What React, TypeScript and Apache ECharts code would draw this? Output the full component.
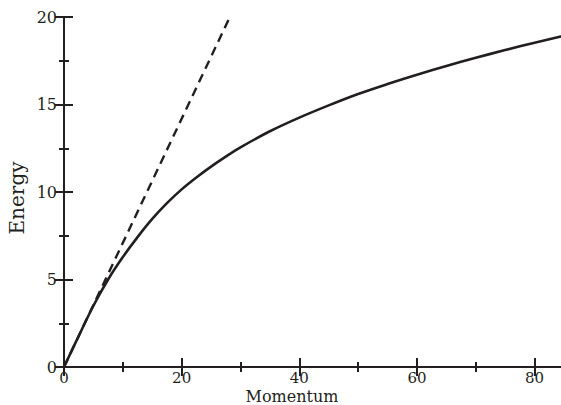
import React, { useEffect, useRef } from "react";
import * as echarts from "echarts";

const momentum = [0, 2.5, 5, 7.5, 10, 12.5, 15, 17.5, 20, 22.5, 25, 27.5, 30, 35, 40, 45, 50, 55, 60, 65, 70, 75, 80, 85];
const energy = [0, 1.77, 3.5, 5.0, 6.28, 7.42, 8.46, 9.36, 10.15, 10.83, 11.45, 12.02, 12.55, 13.47, 14.25, 14.95, 15.6, 16.17, 16.7, 17.2, 17.67, 18.11, 18.53, 18.93];
const asymptoteX = [0, 28.2];
const asymptoteY = [0, 20];
const xTicks = { min: 0, max: 85, interval: 20 };
const yTicks = { min: 0, max: 20, interval: 5 };

const INK = "#231f20";
const FONT = "DejaVu Serif";

export default function App() {
  const ref = useRef<HTMLDivElement>(null);
  useEffect(() => {
    if (!ref.current) return;
    const chart = echarts.init(ref.current, undefined, { renderer: "svg" });
    const axisCommon = {
      axisLine: { show: true, lineStyle: { color: INK, width: 2 } },
      axisTick: { show: true, inside: true, length: 9, lineStyle: { color: INK, width: 2 } },
      minorTick: { show: true, splitNumber: 2, length: 5, lineStyle: { color: INK, width: 2 } },
      splitLine: { show: false },
    };
    const label = { color: INK, fontFamily: FONT, fontSize: 16, lineHeight: 16 };
    chart.setOption({
      animation: false,
      backgroundColor: "#fff",
      grid: { left: 64, top: 17, right: 6, bottom: 38, containLabel: false },
      xAxis: [
        { type: "value", position: "bottom", min: xTicks.min, max: xTicks.max, interval: xTicks.interval, ...axisCommon,
          axisLabel: { ...label, fontSize: 15, lineHeight: 15, margin: 3, showMaxLabel: false } },
        { type: "value", position: "top", min: xTicks.min, max: xTicks.max, interval: xTicks.interval, ...axisCommon,
          axisLabel: { show: false } },
      ],
      yAxis: [
        { type: "value", position: "left", min: yTicks.min, max: yTicks.max, interval: yTicks.interval, ...axisCommon,
          axisLabel: { ...label, margin: 7 } },
        { type: "value", position: "right", min: yTicks.min, max: yTicks.max, interval: yTicks.interval, ...axisCommon,
          axisLabel: { show: false } },
      ],
      graphic: [
        { type: "text", x: 292, y: 396.5, style: { text: "Momentum", fill: INK, font: `16px "${FONT}"`, lineHeight: 15, align: "center", verticalAlign: "middle" } },
        { type: "text", x: 17, y: 198, rotation: Math.PI / 2, style: { text: "Energy", fill: INK, font: `20px "${FONT}"`, align: "center", verticalAlign: "middle" } },
      ],
      series: [
        {
          type: "line",
          data: momentum.map((m, i) => [m, energy[i]]),
          smooth: 0.35,
          showSymbol: false,
          lineStyle: { color: INK, width: 2.6 },
          clip: true,
        },
        {
          type: "line",
          data: asymptoteX.map((m, i) => [m, asymptoteY[i]]),
          showSymbol: false,
          lineStyle: { color: INK, width: 2.4, type: [9, 6] },
          clip: true,
        },
      ],
    });
    return () => chart.dispose();
  }, []);
  return <div ref={ref} style={{ position: "fixed", left: 0, top: 0, width: 570, height: 405 }} />;
}
